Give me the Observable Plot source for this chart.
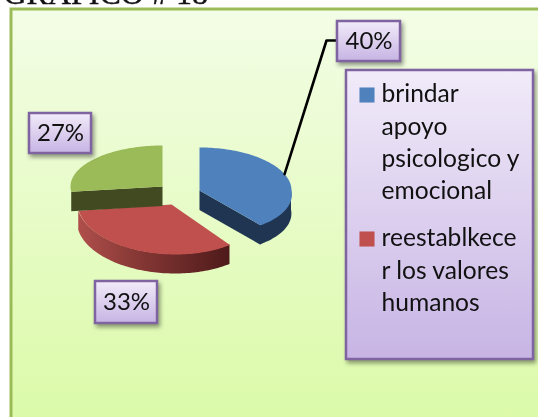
<!DOCTYPE html>
<html><head><meta charset="utf-8">
<script src="https://cdn.jsdelivr.net/npm/d3@7"></script>
<script src="https://cdn.jsdelivr.net/npm/@observablehq/plot@0.6"></script>
<style>html,body{margin:0;padding:0;background:#fff;overflow:hidden}svg{display:block;filter:blur(.35px)}
.shadowed{filter:drop-shadow(2px 3px 2px rgba(0,0,0,.4))}</style>
</head><body><div id="chart"></div>
<script>
const categories = ["brindar apoyo psicologico y emocional","reestablkecer los valores humanos","otros"];
const percents = [40,33,27];
const percentLabels = ["40%","33%","27%"];
const legendLines = [["brindar","apoyo","psicologico y","emocional"],["reestablkece","r los valores","humanos"]];
const titleText = "GRAFICO # 18";
const colors = ["#4f81bd","#c0504d","#9bbb59"];
const sideColors = ["#1f3552","url(#redWall)","#424a22"];

// layout (pixels of the 538x417 picture; x and y scales are 1:1)
const W=538,H=417;
const centres=[[199,190,92,43,.2],[171,204,94,50,.08],[162,186,92,41,0]];
const depth=19.5;
const labelBoxes=[[337,21,400,61],[95,281,157,323],[29,113,91,153]];
const legendBox=[346,70,533,359];

const arcs=d3.pie().sort(null).startAngle(0).endAngle(2*Math.PI)(percents);
const pt=(i,a)=>{const [cx,cy,rx,ry,sh]=centres[i];const dy=-ry*Math.cos(a);return {x:cx+rx*Math.sin(a)+(dy>0?sh*dy:0),y:cy+dy}};
const sweep=(i,a0,a1)=>{const n=Math.max(2,Math.ceil(Math.abs(a1-a0)*40));return d3.range(n+1).map(k=>pt(i,a0+(a1-a0)*k/n))};
const face=i=>{const a=arcs[i];return [{x:centres[i][0],y:centres[i][1]},...sweep(i,a.startAngle,a.endAngle)]};
const wall=i=>{const a=arcs[i];const s=Math.max(a.startAngle,Math.PI/2);const e=Math.min(a.endAngle,3*Math.PI/2);return e>s?sweep(i,s,e):[]};
const cutFace=(i,a)=>{const c=centres[i];const p=pt(i,a);return [{x:c[0],y:c[1]},p,{x:p.x,y:p.y+depth},{x:c[0],y:c[1]+depth}]};

const defs=()=>{const s=d3.create("svg:defs");
 const g=(id,stops,v=true)=>{const l=s.append("linearGradient").attr("id",id);
  if(v){l.attr("x1",0).attr("y1",0).attr("x2",0).attr("y2",1)}
  else{l.attr("x1",0).attr("y1",0).attr("x2",1).attr("y2",0)}
  stops.forEach(([o,c])=>l.append("stop").attr("offset",o).attr("stop-color",c));};
 g("bg",[[0,"#f3fde6"],[1,"#dbfaa8"]]);
 g("box",[[0,"#f1ebf9"],[1,"#c7b4e4"]]);
 g("redWall",[[0,"#b04f4c"],[.35,"#8a3a37"],[1,"#4e1a1a"]],false);
 return s.node();};

const rects=(boxes)=>boxes.map(b=>({x1:b[0],y1:b[1],x2:b[2],y2:b[3]}));
const font="Lato, 'Open Sans', sans-serif";
const legendRows=[];
const rowH=32.3;
legendLines.forEach((ls,si)=>ls.forEach((t,k)=>legendRows.push({t,si,k})));
const rowY=d=>94+rowH*d.k+(d.si?144:0);
const leaderStart=pt(0,1.18);

const chart=Plot.plot({width:W,height:H,margin:0,
 x:{domain:[0,W],range:[0,W],axis:null},y:{domain:[0,H],range:[0,H],axis:null},
 marks:[defs,
  Plot.text([titleText],{x:3,y:-7,text:d=>d,textAnchor:"start",fontFamily:"'Liberation Serif',serif",fontSize:32,fill:"#111",stroke:"#111",strokeWidth:.4}),
  Plot.rect(rects([[11,9,560,422]]),{x1:"x1",x2:"x2",y1:"y1",y2:"y2",fill:"url(#bg)",stroke:"#9bbb59",strokeWidth:3}),
  Plot.areaY(wall(1),{x:"x",y1:"y",y2:d=>d.y+depth,fill:sideColors[1]}),
  Plot.line(face(1),{x:"x",y:"y",fill:colors[1],stroke:"none",curve:"linear-closed"}),
  Plot.line(cutFace(2,arcs[2].startAngle),{x:"x",y:"y",fill:sideColors[2],stroke:"none",curve:"linear-closed"}),
  Plot.line(face(2),{x:"x",y:"y",fill:colors[2],stroke:"none",curve:"linear-closed"}),
  Plot.line(cutFace(0,arcs[0].endAngle),{x:"x",y:"y",fill:sideColors[0],stroke:"none",curve:"linear-closed"}),
  Plot.areaY(wall(0),{x:"x",y1:"y",y2:d=>d.y+depth,fill:sideColors[0]}),
  Plot.line(face(0),{x:"x",y:"y",fill:colors[0],stroke:"none",curve:"linear-closed"}),
  Plot.line([leaderStart,{x:326,y:40},{x:337,y:40}],{x:"x",y:"y",stroke:"#000",strokeWidth:2.6}),
  Plot.rect(rects(labelBoxes),{x1:"x1",x2:"x2",y1:"y1",y2:"y2",fill:"url(#box)",stroke:"#8064a2",strokeWidth:2.5,className:"shadowed"}),
  Plot.text(percentLabels,{x:(d,i)=>(labelBoxes[i][0]+labelBoxes[i][2])/2,y:(d,i)=>(labelBoxes[i][1]+labelBoxes[i][3])/2,text:d=>d,fontFamily:font,fontSize:24,fill:"#111"}),
  Plot.rect(rects([legendBox]),{x1:"x1",x2:"x2",y1:"y1",y2:"y2",fill:"url(#box)",stroke:"#8064a2",strokeWidth:2.5,className:"shadowed"}),
  Plot.dot(colors.slice(0,2),{x:366.5,y:(d,i)=>94.5+i*144,symbol:"square",r:8.5,fill:d=>d,stroke:"none"}),
  Plot.text(legendRows,{x:381,y:rowY,text:"t",textAnchor:"start",fontFamily:font,fontSize:24.6,fill:"#111"})
 ]});
document.getElementById("chart").append(chart);
</script></body></html>
